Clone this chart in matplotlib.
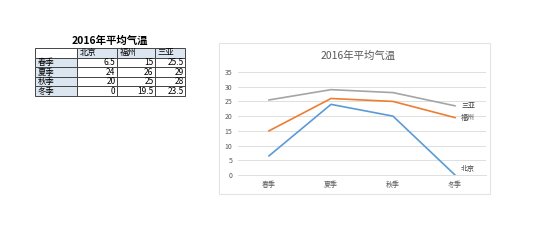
import matplotlib.pyplot as plt
from matplotlib.patches import Rectangle

plt.rcParams['font.family'] = ['Noto Sans CJK SC', 'DejaVu Sans']

seasons = ['春季', '夏季', '秋季', '冬季']
cities = ['北京', '福州', '三亚']
beijing = [6.5, 24, 20, 0]
fuzhou = [15, 26, 25, 19.5]
sanya = [25.5, 29, 28, 23.5]
colors = ['#5b9bd5', '#ed7d31', '#a5a5a5']

W, H = 560, 243
fig = plt.figure(figsize=(5.6, 2.43), dpi=100)


def fx(px):
    return px / W


def fy(py):
    return (H - py) / H


##### TABLE #####
fig.text(fx(110), fy(41), '2016年平均气温', ha='center', va='center',
         fontsize=7.5, fontweight='bold')
tax = fig.add_axes([fx(35), fy(96), fx(150), (96 - 48) / H])
tax.axis('off')
cells = [[s] + ['%g' % v for v in vals]
         for s, vals in zip(seasons, zip(beijing, fuzhou, sanya))]
tbl = tax.table(cellText=[[''] + cities] + cells, bbox=[0, 0, 1, 1],
                colWidths=[42, 40, 38, 30], cellLoc='right')
tbl.auto_set_font_size(False)
for (r, c), cell in tbl.get_celld().items():
    cell.set_linewidth(0.7)
    cell.set_edgecolor('#444444')
    cell.set_fontsize(6)
    cell.PAD = 0.04
    if r == 0 or c == 0:
        cell.set_facecolor('#dce6f1')
        cell.get_text().set_ha('left')
        cell.PAD = 0.07
    if r == 0 and c == 0:
        cell.set_facecolor('white')

##### LINE CHART #####
fig.patches.append(Rectangle((fx(219), fy(194)), fx(490 - 219), (194 - 43) / H,
                             transform=fig.transFigure, fill=False,
                             edgecolor='#e3e3e3', linewidth=0.8))
fig.text(fx(358), fy(56), '2016年平均气温', ha='center', va='center',
         fontsize=7.5, color='#595959')

ax = fig.add_axes([fx(238), fy(175), fx(486 - 238), (175 - 72) / H])
x = range(len(seasons))
offsets = [2, 0, 0]
for vals, name, col, off in zip([beijing, fuzhou, sanya], cities, colors, offsets):
    ax.plot(x, vals, color=col, linewidth=1.2)
    ax.text(len(seasons) - 1 + 0.1, vals[-1] + off, name, fontsize=5,
            color='#404040', va='center', ha='left')

ax.set_xlim(-0.5, 3.5)
ax.set_ylim(0, 35)
ax.set_yticks(range(0, 36, 5))
ax.set_xticks(list(x))
ax.set_xticklabels(seasons)
ax.grid(axis='y', color='#d9d9d9', linewidth=0.6)
ax.set_axisbelow(True)
for s in ['top', 'right', 'left']:
    ax.spines[s].set_visible(False)
ax.spines['bottom'].set_color('#d9d9d9')
ax.spines['bottom'].set_linewidth(0.6)
ax.tick_params(length=0, labelsize=5, labelcolor='#595959', pad=4)

fig.savefig('out.png', dpi=100)
